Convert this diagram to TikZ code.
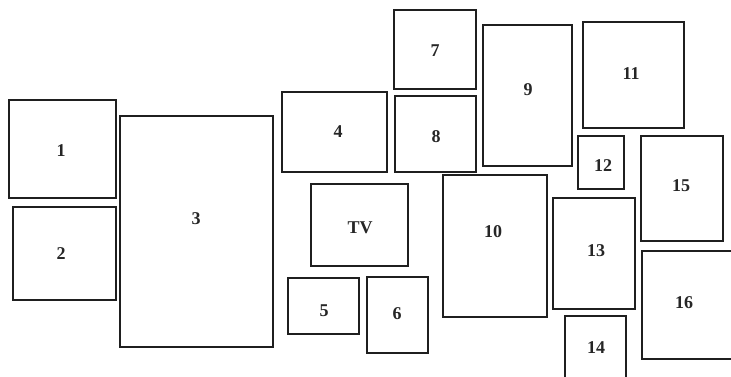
\documentclass[tikz,border=0pt]{standalone}
\usepackage{fontspec}
\setmainfont{Liberation Serif}
\begin{document}
\begin{tikzpicture}[x=1pt,y=-1pt,
  frame/.style={line width=2.4pt,draw=black!88},
  lbl/.style={font=\fontsize{18}{21}\selectfont\bfseries,text=black!85,inner sep=0pt}]
\useasboundingbox (0,0) rectangle (731,376);
\clip (0,0) rectangle (731,376);
% left column
\draw[frame] (9,100) rectangle (116,198);
\node[lbl] (n1) at (61,151) {1};
\draw[frame] (13,207) rectangle (116,300);
\node[lbl] (n2) at (61,254) {2};
\draw[frame] (120,116) rectangle (273,347);
\node[lbl] (n3) at (196,219) {3};
% middle
\draw[frame] (282,92) rectangle (387,172);
\node[lbl] (n4) at (338,132) {4};
\draw[frame] (311,184) rectangle (408,266);
\node[lbl] (tv) at (360,228) {TV};
\draw[frame] (288,278) rectangle (359,334);
\node[lbl] (n5) at (324,311) {5};
\draw[frame] (367,277) rectangle (428,353);
\node[lbl] (n6) at (397,314) {6};
\draw[frame] (394,10) rectangle (476,89);
\node[lbl] (n7) at (435,51) {7};
\draw[frame] (395,96) rectangle (476,172);
\node[lbl] (n8) at (436,137) {8};
% right side
\draw[frame] (483,25) rectangle (572,166);
\node[lbl] (n9) at (528,90) {9};
\draw[frame] (443,175) rectangle (547,317);
\node[lbl] (n10) at (493,232) {10};
\draw[frame] (583,22) rectangle (684,128);
\node[lbl] (n11) at (631,74) {11};
\draw[frame] (578,136) rectangle (624,189);
\node[lbl] (n12) at (603,166) {12};
\draw[frame] (553,198) rectangle (635,309);
\node[lbl] (n13) at (596,251) {13};
\draw[frame] (565,316) rectangle (626,390);
\node[lbl] (n14) at (596,348) {14};
\draw[frame] (641,136) rectangle (723,241);
\node[lbl] (n15) at (681,186) {15};
\draw[frame] (642,251) rectangle (745,359);
\node[lbl] (n16) at (684,303) {16};
\end{tikzpicture}
\end{document}
